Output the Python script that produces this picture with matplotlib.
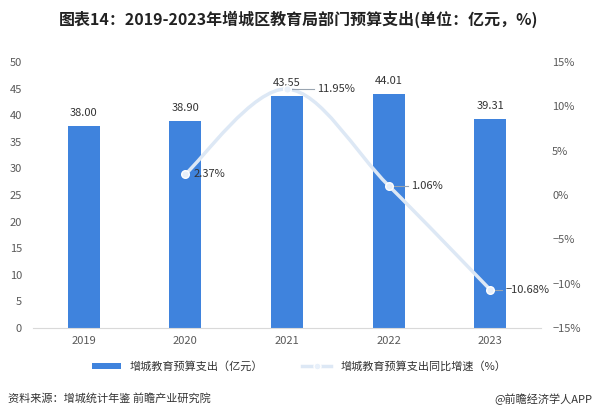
import matplotlib.pyplot as plt
from matplotlib.path import Path
from matplotlib.patches import PathPatch
from matplotlib.lines import Line2D
from matplotlib.patches import Patch

plt.rcParams['font.family'] = ['Noto Sans CJK SC', 'DejaVu Sans']

years = ['2019', '2020', '2021', '2022', '2023']
budget = [38.00, 38.90, 43.55, 44.01, 39.31]
growth_years = [1, 2, 3, 4]
growth = [2.37, 11.95, 1.06, -10.68]

bar_c = '#3f83dd'
line_c = '#dde8f5'
grey = '#595959'

fig = plt.figure(figsize=(5.98, 4.19), dpi=100)
ax = fig.add_axes([0.0552, 0.2172, 0.8495, 0.6348])
ax2 = ax.twinx()

x = list(range(len(years)))
ax.bar(x, budget, width=0.315, color=bar_c, zorder=2)
for xi, v in zip(x, budget):
    ax.text(xi, v + 1.5, f'{v:.2f}', ha='center', va='bottom', fontsize=8, color='#333333')

ax.set_xlim(-0.5, 4.5)
ax.set_ylim(0, 50)
ax.set_yticks(range(0, 51, 5))
ax.set_xticks(x)
ax.set_xticklabels(years)
ax2.set_ylim(-15, 15)
ax2.set_yticks(range(-15, 16, 5))
ax2.set_yticklabels([f'{t}%'.replace('-', '−') for t in range(-15, 16, 5)])

for a in (ax, ax2):
    for s in ('top', 'left', 'right'):
        a.spines[s].set_visible(False)
    a.tick_params(length=0, labelsize=8, labelcolor=grey)
ax.spines['bottom'].set_color('#d9d9d9')
ax2.spines['bottom'].set_visible(False)
ax.tick_params(axis='y', pad=8)
ax.tick_params(axis='x', pad=6)
ax2.tick_params(axis='y', pad=8)

# smooth curve through the growth points (cubic bezier segments)
pts = list(zip(growth_years, growth))
verts = [pts[0]]
codes = [Path.MOVETO]
for i in range(len(pts) - 1):
    p0 = pts[i - 1] if i > 0 else pts[i]
    p1 = pts[i]
    p2 = pts[i + 1]
    p3 = pts[i + 2] if i + 2 < len(pts) else pts[i + 1]
    k = 0.5 / 3
    c1 = (p1[0] + (p2[0] - p0[0]) * k, p1[1] + (p2[1] - p0[1]) * k)
    c2 = (p2[0] - (p3[0] - p1[0]) * k, p2[1] - (p3[1] - p1[1]) * k)
    verts += [c1, c2, p2]
    codes += [Path.CURVE4] * 3
ax2.add_patch(PathPatch(Path(verts, codes), fill=False, edgecolor=line_c, lw=2.5, zorder=3))
ax2.scatter(growth_years, growth, s=30, color='#e8f0fa', edgecolor='white', linewidth=1.0, zorder=4)

offsets = [(0.08, 0.0), (0.3, 0.0), (0.22, 0.0), (0.15, 0.0)]
for gx, gy, (dx, dy) in zip(growth_years, growth, offsets):
    if dx > 0.1:
        ax2.plot([gx, gx + dx - 0.03], [gy, gy + dy], color='#9aa5b1', lw=0.8, zorder=3)
    ax2.text(gx + dx, gy + dy, f'{gy:.2f}%'.replace('-', '−'), ha='left', va='center',
             fontsize=8, color='#333333', zorder=5)

fig.text(0.5, 0.955, '图表14：2019-2023年增城区教育局部门预算支出(单位：亿元，%)',
         ha='center', va='center', fontsize=11.5, fontweight='bold', color='#222222')

handles = [Patch(facecolor=bar_c), Line2D([], [], color=line_c, lw=2.5, marker='o',
                                          markersize=5, markerfacecolor='#e8f0fa', markeredgecolor='white')]
fig.legend(handles, ['增城教育预算支出（亿元）', '增城教育预算支出同比增速（%）'],
           loc='center', bbox_to_anchor=(0.5, 0.125), ncol=2, frameon=False,
           fontsize=8, handlelength=2.6, handleheight=0.5, columnspacing=3.5,
           labelcolor='#333333')

fig.text(0.013, 0.048, '资料来源：增城统计年鉴 前瞻产业研究院', ha='left', va='center',
         fontsize=8, color='#333333')
fig.text(0.99, 0.048, '@前瞻经济学人APP', ha='right', va='center', fontsize=8, color='#333333')

fig.savefig('out.png', dpi=100)
